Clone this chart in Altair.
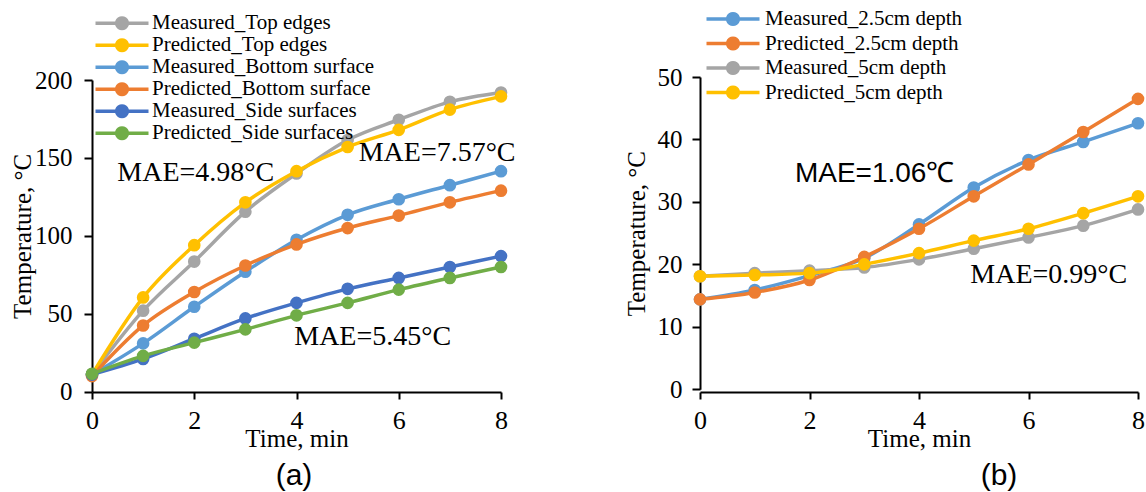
import math

import altair as alt
import pandas as pd

SERIF = "Liberation Serif"
SANS = "Liberation Sans"

minutes = [0, 1, 2, 3, 4, 5, 6, 7, 8]

# ---- panel (a): surface temperatures ----
series_a = [
    "Measured_Top edges",
    "Predicted_Top edges",
    "Measured_Bottom surface",
    "Predicted_Bottom surface",
    "Measured_Side surfaces",
    "Predicted_Side surfaces",
]
colors_a = ["#A5A5A5", "#FFC000", "#5B9BD5", "#ED7D31", "#4472C4", "#70AD47"]
measured_top = [11, 52, 83.5, 115.5, 140, 161.5, 174.5, 186, 192]
predicted_top = [11, 60.5, 94, 121.5, 141.5, 157, 168, 181, 189.5]
measured_bottom = [11, 31, 54.5, 77, 97.5, 113.5, 123.5, 132.5, 141.5]
predicted_bottom = [10, 42.5, 64, 81, 94.5, 105, 113, 121.5, 129]
measured_side = [11, 21, 34, 47, 57, 66, 73, 80, 87]
predicted_side = [11.5, 23, 31.5, 40, 49, 57, 65.5, 73, 80]
values_a = [measured_top, predicted_top, measured_bottom,
            predicted_bottom, measured_side, predicted_side]
ticks_a = [0, 50, 100, 150, 200]

notes_a_text = ["MAE=4.98°C", "MAE=7.57°C", "MAE=5.45°C"]
notes_a_time = [2.03, 6.75, 5.49]
notes_a_temp = [140.3, 153.2, 35.1]

# ---- panel (b): internal temperatures ----
series_b = [
    "Measured_2.5cm depth",
    "Predicted_2.5cm depth",
    "Measured_5cm depth",
    "Predicted_5cm depth",
]
colors_b = ["#5B9BD5", "#ED7D31", "#A5A5A5", "#FFC000"]
measured_25 = [14.4, 15.9, 18.2, 21.0, 26.4, 32.3, 36.7, 39.6, 42.6]
predicted_25 = [14.4, 15.5, 17.5, 21.2, 25.7, 30.9, 36.0, 41.2, 46.5]
measured_5 = [18.1, 18.6, 19.0, 19.5, 20.8, 22.5, 24.3, 26.2, 28.8]
predicted_5 = [18.1, 18.3, 18.6, 20.0, 21.8, 23.8, 25.7, 28.2, 30.9]
values_b = [measured_25, predicted_25, measured_5, predicted_5]
ticks_b = [0, 10, 20, 30, 40, 50]

notes_b_sans_text = ["MAE=1.06℃"]
notes_b_sans_time = [3.19]
notes_b_sans_temp = [34.4]
notes_b_text = ["MAE=0.99°C"]
notes_b_time = [6.37]
notes_b_temp = [18.3]


def long_table(names, values):
    rows = []
    for name, vals in zip(names, values):
        for t, v in zip(minutes, vals):
            rows.append({"series": name, "time": t, "temp": v})
    return pd.DataFrame(rows)


def note_table(texts, times, temps):
    return pd.DataFrame({"label": texts, "time": times, "temp": temps})


# legend glyph: a 53px line starting at the symbol anchor, with a solid dot
# at its middle; path units are sqrt(GLYPH_SIZE) / 2 = 8px
GLYPH_SIZE = 256
UNIT = math.sqrt(GLYPH_SIZE) / 2


def legend_glyph():
    length = 53 / UNIT
    mid = length / 2
    parts = [f"M0,0L{length:.4f},0"]
    for r_px in (1.6, 3.6, 5.3):
        r = r_px / UNIT
        pts = [(mid + r * math.cos(2 * math.pi * k / 20), r * math.sin(2 * math.pi * k / 20))
               for k in range(20)]
        parts.append("M" + "L".join(f"{px:.4f},{py:.4f}" for px, py in pts) + "Z")
    return "".join(parts)


GLYPH = legend_glyph()


def panel(names, colors, values, y_domain, y_ticks, y_range, width, height,
          legend_x, legend_y, legend_gap, legend_label_offset, y_label_pad, y_title_x,
          serif_notes, sans_notes, caption, caption_dx):
    data = long_table(names, values)

    x_axis = alt.Axis(
        values=[0, 2, 4, 6, 8], format="d", title="Time, min", grid=False,
        domainColor="black", domainWidth=2, tickColor="black", tickWidth=2,
        tickSize=7, labelFont=SERIF, labelFontSize=26, labelColor="black",
        labelPadding=8, labelOverlap=False, labelFlush=False,
        titleFont=SERIF, titleFontSize=25, titleFontWeight="normal",
        titleColor="black", titleY=54, titleBaseline="alphabetic",
    )
    y_axis = alt.Axis(
        values=y_ticks, format="d", title="Temperature, °C", grid=False,
        domainColor="black", domainWidth=2, tickColor="black", tickWidth=2,
        tickSize=8, labelFont=SERIF, labelFontSize=25, labelColor="black",
        labelPadding=y_label_pad, labelOverlap=False, labelFlush=False,
        titleFont=SERIF, titleFontSize=25, titleFontWeight="normal",
        titleColor="black", titleX=y_title_x, titleBaseline="alphabetic",
    )
    x = alt.X("time:Q", scale=alt.Scale(domain=[0, 8], range=[0, width], nice=False),
              axis=x_axis)
    y = alt.Y("temp:Q", scale=alt.Scale(domain=y_domain, range=y_range, nice=False,
                                        zero=False), axis=y_axis)
    color = alt.Color(
        "series:N", scale=alt.Scale(domain=names, range=colors),
        legend=alt.Legend(
            title=None, orient="none", legendX=legend_x, legendY=legend_y,
            symbolType=GLYPH, symbolSize=GLYPH_SIZE, symbolStrokeWidth=3.5,
            symbolOpacity=1, labelFont=SERIF, labelFontSize=21,
            labelColor="black", labelOffset=legend_label_offset, labelLimit=500,
            rowPadding=legend_gap, padding=0, clipHeight=21,
        ),
    )
    base = alt.Chart(data).encode(x=x, y=y, color=color)
    layers = []
    for name in names:
        one = base.transform_filter(alt.datum.series == name)
        layers.append(one.mark_line(strokeWidth=3.5, interpolate="monotone"))
        layers.append(one.mark_circle(size=160, opacity=1))

    for (texts, times, temps), font in ((serif_notes, SERIF), (sans_notes, SANS)):
        if not texts:
            continue
        layers.append(
            alt.Chart(note_table(texts, times, temps))
            .mark_text(font=font, fontSize=28, color="black", align="center",
                       baseline="middle")
            .encode(x="time:Q", y="temp:Q", text="label:N")
        )

    return alt.layer(*layers).properties(
        width=width, height=height,
        title=alt.TitleParams(caption, orient="bottom", anchor="middle", font=SANS,
                              fontSize=30, fontWeight="normal", color="black",
                              offset=10, dx=caption_dx),
    )


left = panel(
    series_a, colors_a, values_a, [0, 200], ticks_a, [314.7, 3.0], 409, 315,
    -7, -64.3, 0, 46, 12, -61.5,
    (notes_a_text, notes_a_time, notes_a_temp), ([], [], []),
    "(a)", -2.5,
)
right = panel(
    series_b, colors_b, values_b, [0, 50], ticks_b, [312.3, 0.0], 438, 315,
    -4, -68.5, 2.5, 48, 10, -56,
    (notes_b_text, notes_b_time, notes_b_temp),
    (notes_b_sans_text, notes_b_sans_time, notes_b_sans_temp),
    "(b)", 80,
)

chart = (
    alt.hconcat(left, right, spacing=199, bounds="flush")
    .resolve_scale(x="independent", y="independent", color="independent")
    .resolve_legend(color="independent")
    .properties(
        autosize=alt.AutoSizeParams(type="none"),
        padding={"left": 92, "top": 77, "right": 1146 - 92, "bottom": 492 - 77},
        background="white",
    )
    .configure_view(stroke=None)
)

chart.save("out.html", embed_options={"renderer": "svg", "actions": False})
